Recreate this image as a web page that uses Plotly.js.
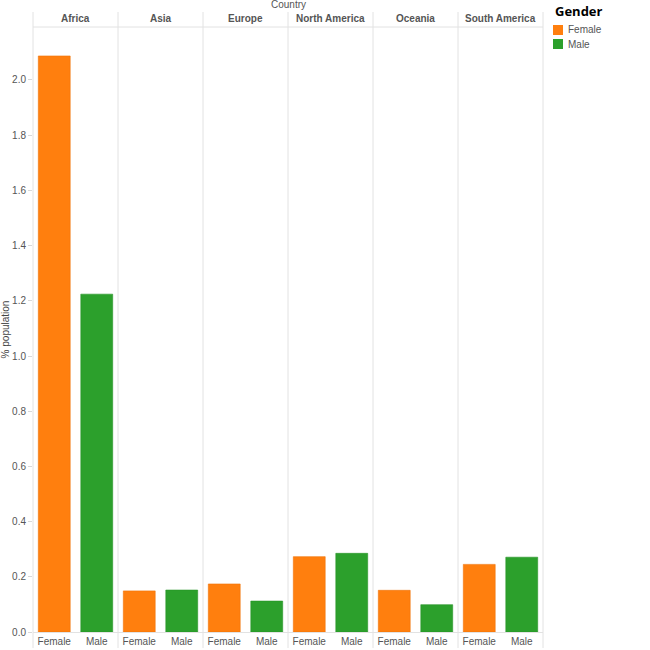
<!DOCTYPE html>
<html>
<head>
<meta charset="utf-8">
<script src="https://cdn.plot.ly/plotly-3.0.1.min.js"></script>
<style>
  html, body { margin: 0; padding: 0; background: #fff; }
  #plot { width: 650px; height: 650px; }
</style>
</head>
<body>
<div id="plot"></div>
<script>
// data
const countries = ["Africa", "Asia", "Europe", "North America", "Oceania", "South America"];
const genders = ["Female", "Male"];
const female = [2.087, 0.149, 0.174, 0.273, 0.151, 0.245];
const male   = [1.224, 0.152, 0.112, 0.285, 0.099, 0.271];
const yTicks = [0, 0.2, 0.4, 0.6, 0.8, 1.0, 1.2, 1.4, 1.6, 1.8, 2.0];

const colors = { Female: "#ff7f0e", Male: "#2ca02c" };
const edge = { Female: "#f07409", Male: "#279427" };

// pixel -> paper helpers (plot box is 33..543 x 27..632)
const L = 33, R = 107, T = 27, B = 18, W = 650, H = 650;
const pw = W - L - R, ph = H - T - B;
function px(x){ return (x - L) / pw; }
function py(y){ return (H - B - y) / ph; }

const font = "Liberation Sans, Arial, sans-serif";
const n = countries.length;

const traces = [];
const layout = {
  width: W, height: H,
  margin: { l: L, r: R, t: T, b: B, autoexpand: false },
  paper_bgcolor: "#fff",
  plot_bgcolor: "#fff",
  font: { family: font, size: 10, color: "#555" },
  barmode: "overlay",
  bargap: 0.25,
  showlegend: false,
  yaxis: {
    range: [0, 2.192],
    tickvals: yTicks,
    tickformat: ".1f",
    showgrid: false, zeroline: false,
    ticks: "outside", ticklen: 4, tickcolor: "#d8d8d8",
    tickfont: { size: 10, color: "#555" },
    showline: false,
    automargin: false,
    title: { text: "% population", font: { size: 10, color: "#444" }, standoff: 3 }
  },
  shapes: [],
  annotations: []
};

countries.forEach((c, i) => {
  const ax = i === 0 ? "x" : "x" + (i + 1);
  const key = i === 0 ? "xaxis" : "xaxis" + (i + 1);
  layout[key] = {
    domain: [i / n, (i + 1) / n],
    anchor: "y",
    type: "category",
    categoryorder: "array",
    categoryarray: genders,
    range: [-0.5, 1.5],
    showgrid: false, zeroline: false,
    ticks: "",
    showline: true, linecolor: "#e2e2e2",
    tickfont: { size: 10, color: "#555" },
    automargin: false
  };
  const vals = { Female: female[i], Male: male[i] };
  genders.forEach(g => {
    traces.push({
      type: "bar",
      x: [g], y: [vals[g]],
      xaxis: ax, yaxis: "y",
      name: g,
      width: 0.75,
      marker: { color: colors[g], line: { color: edge[g], width: 0.6 } }
    });
  });

  // panel header
  layout.annotations.push({
    text: c, xref: "paper", yref: "paper",
    x: (i + 0.5) / n, y: py(19),
    showarrow: false, xanchor: "center", yanchor: "middle",
    font: { family: font, size: 10, color: "#555", weight: "bold" }
  });
});

// panel dividers
for(let i = 0; i <= n; i++){
  layout.shapes.push({
    type: "line", xref: "paper", yref: "paper",
    x0: i / n, x1: i / n, y0: py(648), y1: py(12),
    line: { color: "#e2e2e2", width: 1 }
  });
}
// header underline
layout.shapes.push({
  type: "line", xref: "paper", yref: "paper",
  x0: 0, x1: 1, y0: 1, y1: 1,
  line: { color: "#e2e2e2", width: 1 }
});

layout.annotations.push({
  text: "Country", xref: "paper", yref: "paper",
  x: 0.5, y: py(5), showarrow: false,
  xanchor: "center", yanchor: "middle",
  font: { family: font, size: 10, color: "#555" }
});

// colour legend (Tableau style, compact)
layout.annotations.push({
  text: "<b>Gender</b>", xref: "paper", yref: "paper",
  x: px(553), y: py(11), showarrow: false,
  xanchor: "left", yanchor: "middle",
  font: { family: "Open Sans, sans-serif", size: 13, color: "#000" }
});
const legendRows = [30, 44];
genders.forEach((g, k) => {
  const yc = legendRows[k];
  layout.shapes.push({
    type: "rect", xref: "paper", yref: "paper",
    x0: px(553), x1: px(563), y0: py(yc + 5), y1: py(yc - 5),
    fillcolor: colors[g], line: { width: 0 }
  });
  layout.annotations.push({
    text: g, xref: "paper", yref: "paper",
    x: px(566), y: py(yc), showarrow: false,
    xanchor: "left", yanchor: "middle",
    font: { family: font, size: 10, color: "#555" }
  });
});

Plotly.newPlot("plot", traces, layout, { displayModeBar: false, staticPlot: true });
</script>
</body>
</html>
